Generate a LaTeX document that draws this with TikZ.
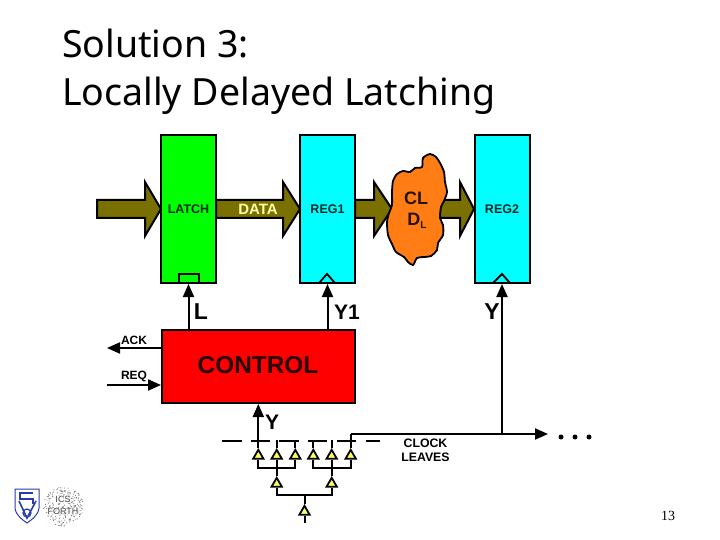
\documentclass[tikz,border=0pt]{standalone}
\usepackage{fontspec}
\setmainfont{Liberation Sans}
\newfontfamily\titlefont{Noto Sans}
\newfontfamily\pagefont{Liberation Serif}
\usetikzlibrary{arrows.meta,shapes.geometric}
\definecolor{busolive}{RGB}{122,112,0}
\definecolor{cloudorange}{RGB}{255,125,20}
\definecolor{logoblue}{RGB}{40,60,170}
\definecolor{regcyan}{RGB}{0,255,255}
\definecolor{latchgreen}{RGB}{0,255,0}
\definecolor{ctrlred}{RGB}{255,0,0}
\definecolor{bufyellow}{RGB}{255,255,90}
\tikzset{
  stage/.style={draw,line width=2pt,minimum width=55pt,minimum height=148pt,inner sep=0pt},
  lab/.style={font=\bfseries\fontsize{12.5}{12.5}\selectfont,inner sep=0pt},
  biglab/.style={font=\bfseries\fontsize{23}{23}\selectfont,inner sep=0pt},
  clk/.style={line width=1.8pt},
  sig/.style={line width=2pt,-{Triangle[length=13pt,width=11pt]}},
  wire/.style={line width=2pt},
  buffer/.style={draw,fill=bufyellow,line width=1.8pt,regular polygon,regular polygon sides=3,minimum size=12pt,inner sep=0pt},
  leaf/.style={line width=1.8pt},
  titletext/.style={anchor=base west,inner sep=0pt,font=\titlefont\fontsize{37.5}{37.5}\selectfont}
}
% thick olive data arrow: tail x, base of head x, tip x
\newcommand{\dataarrow}[3]{
  \draw[line width=2pt,fill=busolive] (#1,200) -- (#2,200) -- (#2,182) -- (#3,209) -- (#2,236) -- (#2,218) -- (#1,218) -- cycle;
}
\begin{document}
\begin{tikzpicture}[x=1pt,y=-1pt]
\useasboundingbox (0,0) rectangle (720,540);

% title
\node[titletext] (title1) at (62,58) {Solution 3:};
\node[titletext] (title2) at (62,106) {Locally Delayed Latching};

% data path
\dataarrow{97}{145}{161}
\dataarrow{216}{283}{300}
\dataarrow{355}{374}{392}
\dataarrow{440}{460}{474}

\node[stage,fill=latchgreen] (latch) at (188.5,209) {};
\node[stage,fill=regcyan] (reg1) at (327.5,209) {};
\node[stage,fill=regcyan] (reg2) at (502,209) {};
\node[lab,text=black!85!latchgreen] at (latch) {LATCH};
\node[lab,text=black!85!regcyan] at (reg1) {REG1};
\node[lab,text=black!85!regcyan] at (reg2) {REG2};
\node[lab,text=bufyellow!50!white,font=\bfseries\fontsize{15}{15}\selectfont] (data) at (258,209) {DATA};

% cloud
\draw[line width=1.8pt,fill=cloudorange] plot[smooth cycle,tension=0.45] coordinates {
  (430,154) (436,157) (440,163) (444,172) (445,182) (447,192) (444,201) (441,207) (440,218)
  (443,225) (443,235) (438,243) (437,250) (431,256) (424,257) (417,258) (413,265)
  (408,262) (404,257) (396,252) (392,244) (388,235) (387,222) (389,213) (392,205)
  (392,192) (393,181) (397,174) (403,171) (410,172) (415,168) (422,167) (423,158)};
\node[inner sep=0pt,text=black!85!cloudorange,font=\bfseries\fontsize{18}{18}\selectfont] (cl) at (416,198) {CL};
\node[inner sep=0pt,text=black!85!cloudorange,font=\bfseries\fontsize{18}{18}\selectfont] (dl) at (417,221) {D\raisebox{-3pt}{\fontsize{10}{10}\selectfont L}};

% clock inputs of the stages
\draw[clk] (179,283) -- (179,274) -- (199,274) -- (199,283);
\draw[clk] (319,283) -- (327,274) -- (335,283);
\draw[clk] (493,283) -- (502,274) -- (510,283);

% control
\node[draw,fill=ctrlred,line width=2pt,minimum width=193pt,minimum height=73pt,inner sep=0pt] (control) at (258.5,366.5) {};
\node[inner sep=0pt,text=black!85!ctrlred,font=\bfseries\fontsize{24.4}{24.4}\selectfont] at (258,365) {CONTROL};
\draw[sig] (control.north -| latch.south) -- (latch.south);
\draw[sig] (control.north -| reg1.south) -- (reg1.south);
\node[biglab] (l) at (201,312) {L};
\node[biglab,font=\bfseries\fontsize{21}{21}\selectfont] (y1) at (347,312) {Y1};
\node[biglab] (y2) at (492,312) {Y};

\coordinate (ackend) at (107,348);
\coordinate (reqstart) at (107,385);
\draw[sig] (control.west |- ackend) -- (ackend);
\draw[sig] (reqstart) -- (control.west |- reqstart);
\node[lab,font=\bfseries\fontsize{12}{12}\selectfont] (ack) at (134,340) {ACK};
\node[lab,font=\bfseries\fontsize{12}{12}\selectfont] (req) at (134,376) {REQ};

% clock tree
\node[buffer] (b1) at (258.3,455.8) {};
\node[buffer] (b2) at (276.7,455.8) {};
\node[buffer] (b3) at (295.3,455.8) {};
\node[buffer] (b4) at (313.3,455.8) {};
\node[buffer] (b5) at (331.7,455.8) {};
\node[buffer] (b6) at (350.7,455.8) {};
\node[buffer] (m1) at (276.7,483.8) {};
\node[buffer] (m2) at (331.7,483.8) {};
\node[buffer] (root) at (304.5,511.8) {};

\coordinate (leaf1) at (258.3,441);
\coordinate (leaf2) at (276.7,440);
\coordinate (leaf3) at (295.3,441);
\coordinate (leaf4) at (313.3,440);
\coordinate (leaf5) at (331.7,440);
\coordinate (leaf6) at (350.7,434);
\coordinate (rootin) at (304.5,523);

\draw[wire] (b1.north) -- (leaf1);
\draw[wire] (b2.north) -- (leaf2);
\draw[wire] (b3.north) -- (leaf3);
\draw[wire] (b4.north) -- (leaf4);
\draw[wire] (b5.north) -- (leaf5);
\draw[wire] (b6.north) -- (leaf6);
\draw[wire] (b1.south) |- (m1.north |- 0,468) -| (b3.south);
\draw[wire] (b4.south) |- (m2.north |- 0,468) -| (b6.south);
\draw[wire] (m1.north) -- (b2.south);
\draw[wire] (m2.north) -- (b5.south);
\draw[wire] (m1.south) |- (root.north |- 0,495) -| (m2.south);
\draw[wire] (root.north) -- (root.north |- 0,495);
\draw[wire] (root.south) -- (rootin);

% leaf dashes
\draw[leaf] (222,441) -- (242,441);
\draw[leaf] (251,441) -- (270,441);
\draw[leaf] (279,441) -- (299,441);
\draw[leaf] (308,441) -- (327,441);
\draw[leaf] (337,441) -- (356,441);
\draw[leaf] (366,441) -- (380,441);

\draw[sig] (leaf1) -- (control.south -| leaf1);
\node[biglab,font=\bfseries\fontsize{21}{21}\selectfont] (y) at (272,422) {Y};

\coordinate (clockend) at (548,434);
\draw[sig] (leaf6) -- (clockend);
\draw[sig] (reg2.south |- clockend) -- (reg2.south);
\node[lab,font=\bfseries\fontsize{12.3}{13}\selectfont,align=center] (leaves) at (425.5,450.5) {CLOCK\\[1.5pt]LEAVES};
\fill (561,437) circle (2.5pt) (575,437) circle (2.5pt) (589,437) circle (2.5pt);

% logo
\draw[logoblue,line width=1pt,fill=white] (15,489) -- (39,489) -- (39,508) .. controls (38,516) and (31,520) .. (27,523) .. controls (23,520) and (16,516) .. (15,508) -- cycle;
\draw[logoblue,line width=1.6pt] (33,493) -- (20,493) -- (20,499) -- (33,499) -- (33,504);
\draw[logoblue,line width=1.6pt] (19,501) -- (27,518) -- (36,501);
\draw[logoblue,line width=1.2pt] (27,513) circle (4pt);
\pgfmathsetseed{13}
\foreach \i in {1,...,260}{
  \pgfmathsetmacro{\ang}{rnd*360}
  \pgfmathsetmacro{\rad}{sqrt(rnd)*20}
  \fill[black!55] ({63.5+\rad*cos(\ang)},{506.5+\rad*sin(\ang)}) circle (0.55pt);
}
\node[inner sep=0.5pt,fill=white,fill opacity=0.6,text opacity=1,text=black!70,font=\fontsize{9}{9}\selectfont] (ics) at (63,499.5) {ICS};
\node[inner sep=0.5pt,fill=white,fill opacity=0.6,text opacity=1,text=black!70,font=\fontsize{9}{9}\selectfont] (forth) at (63,511.5) {FORTH};

% slide number
\node[inner sep=0pt,font=\pagefont\fontsize{14}{14}\selectfont] (pagenum) at (668,516) {13};
\end{tikzpicture}
\end{document}
